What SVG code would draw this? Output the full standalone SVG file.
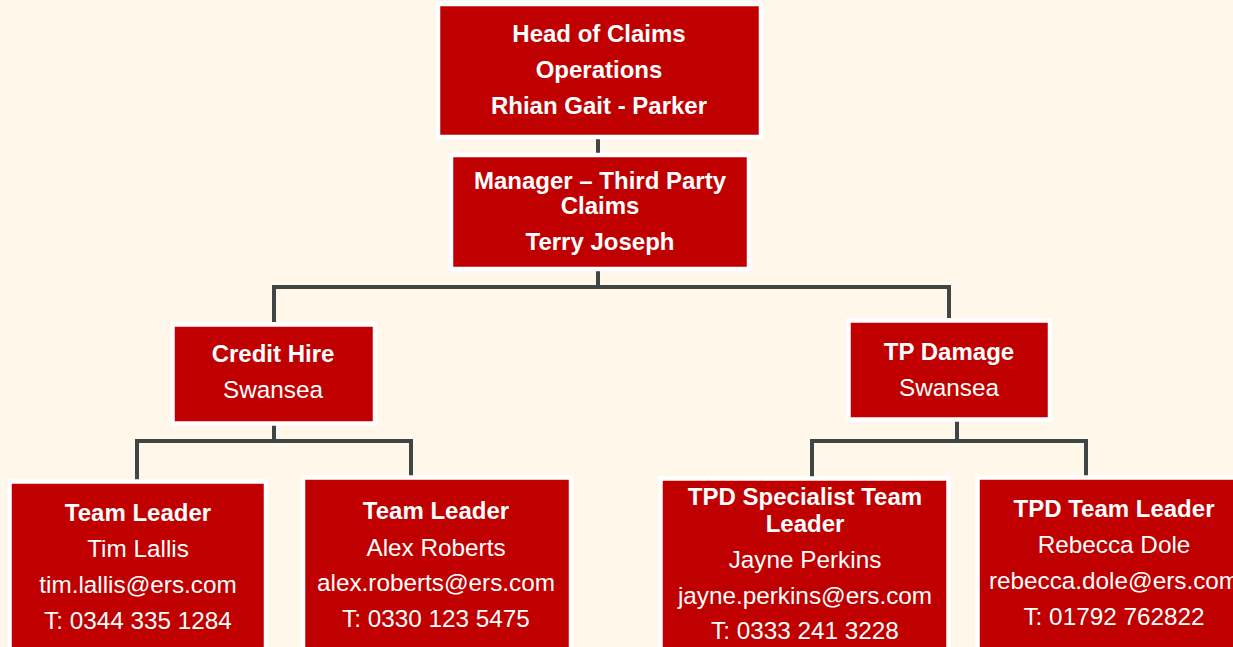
<svg xmlns="http://www.w3.org/2000/svg" width="1233" height="647" viewBox="0 0 1233 647">
<style>
.box{fill:#C00000;stroke:#FFFFFF;stroke-width:4.5}
.conn{fill:none;stroke:#404545;stroke-width:4;stroke-linecap:butt;stroke-linejoin:miter}
text{font-family:"Liberation Sans",Arial,sans-serif;fill:#FFFFFF;text-anchor:middle;font-size:24.3px}
.b{font-weight:bold;font-size:24px}
</style>
<rect x="0" y="0" width="1233" height="647" fill="#FFF8EA"/>
<g id="connectors">
<path class="conn" d="M598,137 V155"/>
<path class="conn" d="M598,269 V288"/>
<path class="conn" d="M274,322 V287 H949 V318"/>
<path class="conn" d="M274,421 V441"/>
<path class="conn" d="M137,481 V441 H411 V477"/>
<path class="conn" d="M957,417 V441"/>
<path class="conn" d="M812,478 V441 H1086 V477"/>
</g>
<g id="head">
<rect class="box" x="438" y="4" width="323" height="133"/>
<text class="b" x="599" y="42">Head of Claims</text>
<text class="b" x="599" y="78">Operations</text>
<text class="b" x="599" y="114">Rhian Gait - Parker</text>
</g>
<g id="manager">
<rect class="box" x="451" y="155" width="298" height="114"/>
<text class="b" x="600" y="189">Manager – Third Party</text>
<text class="b" x="600" y="214">Claims</text>
<text class="b" x="600" y="250">Terry Joseph</text>
</g>
<g id="credit-hire">
<rect class="box" x="172.5" y="324.5" width="202.5" height="99"/>
<text class="b" x="273" y="362">Credit Hire</text>
<text x="273" y="398">Swansea</text>
</g>
<g id="tp-damage">
<rect class="box" x="848.5" y="320.5" width="201.5" height="99"/>
<text class="b" x="949" y="360">TP Damage</text>
<text x="949" y="396">Swansea</text>
</g>
<g id="tim">
<rect class="box" x="9.5" y="481.5" width="256.5" height="220"/>
<text class="b" x="138" y="521">Team Leader</text>
<text x="138" y="557">Tim Lallis</text>
<text x="138" y="593">tim.lallis@ers.com</text>
<text x="138" y="629">T: 0344 335 1284</text>
</g>
<g id="alex">
<rect class="box" x="303" y="477.5" width="268" height="220"/>
<text class="b" x="436" y="519">Team Leader</text>
<text x="436" y="556">Alex Roberts</text>
<text x="436" y="591">alex.roberts@ers.com</text>
<text x="436" y="627">T: 0330 123 5475</text>
</g>
<g id="jayne">
<rect class="box" x="660.5" y="478.5" width="288" height="220"/>
<text class="b" x="805" y="505">TPD Specialist Team</text>
<text class="b" x="805" y="532">Leader</text>
<text x="805" y="568">Jayne Perkins</text>
<text x="805" y="604">jayne.perkins@ers.com</text>
<text x="805" y="639">T: 0333 241 3228</text>
</g>
<g id="rebecca">
<rect class="box" x="977.5" y="477.5" width="300" height="220"/>
<text class="b" x="1114" y="517">TPD Team Leader</text>
<text x="1114" y="553">Rebecca Dole</text>
<text x="1114" y="589">rebecca.dole@ers.com</text>
<text x="1114" y="625">T: 01792 762822</text>
</g>
</svg>
